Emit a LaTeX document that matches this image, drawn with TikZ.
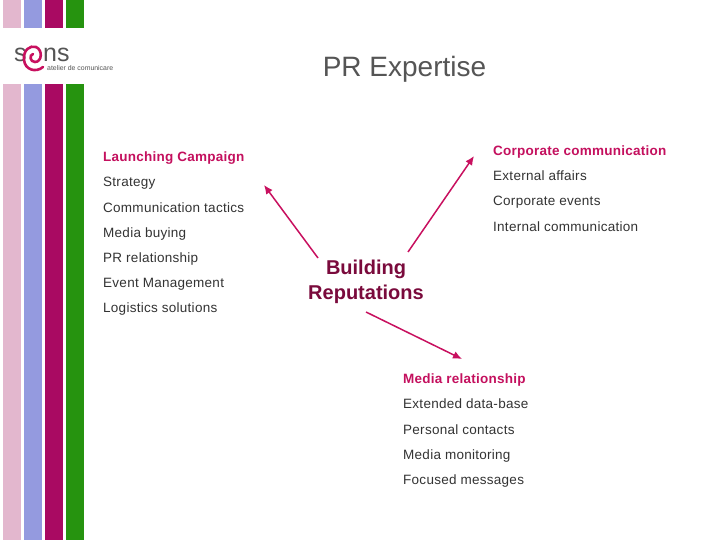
\documentclass[tikz,border=0pt]{standalone}
\usepackage{fontspec}
\setmainfont{Liberation Sans}
\definecolor{barpink}{HTML}{E3B7CE}
\definecolor{barblue}{HTML}{949ADF}
\definecolor{barmag}{HTML}{A90A62}
\definecolor{bargreen}{HTML}{26930F}
\definecolor{arrowc}{HTML}{C8105F}
\definecolor{hubc}{HTML}{7A0A3C}
\definecolor{headc}{HTML}{C4105E}
\definecolor{textc}{HTML}{333333}
\definecolor{titlec}{HTML}{555555}
\usetikzlibrary{arrows.meta}
\tikzset{x=1pt,y=-1pt,
  item/.style={anchor=base west,inner sep=0pt,font=\fontsize{13.5}{16}\selectfont\addfontfeatures{LetterSpace=2},text=textc},
  head/.style={item,font=\fontsize{13.5}{16}\selectfont\bfseries\addfontfeatures{LetterSpace=1.8}},
  linkarrow/.style={draw=arrowc,line width=1.5pt,-{Latex[length=9pt,width=8pt]}}
}
\begin{document}
\begin{tikzpicture}
\useasboundingbox (0,0) rectangle (720,540);
\fill[white] (0,0) rectangle (720,540);
% bars
\foreach \c/\x in {barpink/3,barblue/24,barmag/45,bargreen/66}{
  \fill[\c] (\x,0) rectangle (\x+18,28);
  \fill[\c] (\x,84) rectangle (\x+18,540);
}
% logo
\node[inner sep=0pt,anchor=base west,text=titlec,text depth=0pt] (logos) at (14,62) {\fontsize{25}{25}\selectfont s};
\node[inner sep=0pt,anchor=base west,text=titlec,text depth=0pt] (logons) at (43,62) {\fontsize{25}{25}\selectfont ns};
\node[inner sep=0pt,anchor=base west,text=titlec,text depth=0pt,text height=5pt] (logosub) at (47,70.5) {\fontsize{6.9}{7}\selectfont atelier de comunicare};
\draw[arrowc,line width=2.6pt,line cap=round] (43,67) .. controls (36,73) and (25,70) .. (24,60)
  .. controls (23,50) and (30,45) .. (36,47) .. controls (43,50) and (42,62) .. (35,62)
  .. controls (30,62) and (29,55) .. (33,54);
% title
\node[inner sep=0pt,text=titlec] (title) at (404.5,69) {\fontsize{28}{30}\selectfont PR Expertise};
% left
\node[head,text=headc] (l0) at (103,161.7) {Launching Campaign};
\node[item] (l1) at (103,186.5) {Strategy};
\node[item] (l2) at (103,212) {Communication tactics};
\node[item] (l3) at (103,237) {Media buying};
\node[item] (l4) at (103,262) {PR relationship};
\node[item] (l5) at (103,287) {Event Management};
\node[item] (l6) at (103,312) {Logistics solutions};
% right
\node[head,text=headc] (r0) at (493,155.7) {Corporate communication};
\node[item] (r1) at (493,180.5) {External affairs};
\node[item] (r2) at (493,206) {Corporate events};
\node[item] (r3) at (493,231) {Internal communication};
% bottom
\node[head,text=headc] (b0) at (403,383) {Media relationship};
\node[item] (b1) at (403,408) {Extended data-base};
\node[item] (b2) at (403,434) {Personal contacts};
\node[item] (b3) at (403,459) {Media monitoring};
\node[item] (b4) at (403,484) {Focused messages};
% hub
\node[inner sep=0pt,align=center,text=hubc,font=\fontsize{20}{24.5}\selectfont\bfseries] (hub) at (366,282) {Building\\Reputations};
% arrows
\coordinate (a1s) at (318,258); \coordinate (a1e) at (264,185);
\coordinate (a2s) at (408,252); \coordinate (a2e) at (474,156);
\coordinate (a3s) at (366,312); \coordinate (a3e) at (462,359);
\draw[linkarrow] (a1s) -- (a1e);
\draw[linkarrow] (a2s) -- (a2e);
\draw[linkarrow] (a3s) -- (a3e);
\end{tikzpicture}
\end{document}
